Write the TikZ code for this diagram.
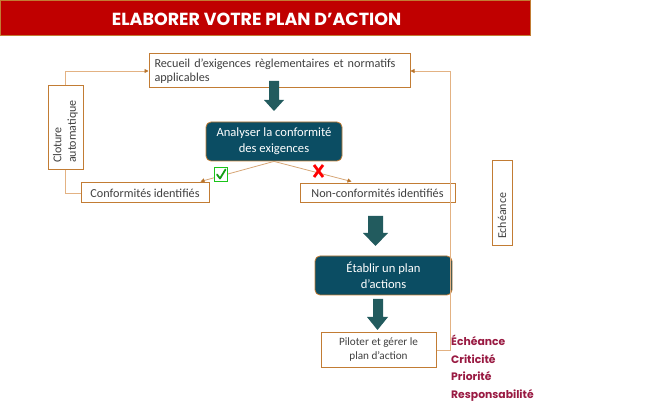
\documentclass[tikz,border=0pt]{standalone}
\usepackage{fontspec}
\setmainfont{Carlito}
\newfontfamily\titlefont{Poppins}
\usetikzlibrary{calc,arrows.meta}
\definecolor{boxborder}{HTML}{C27C34}
\definecolor{fbline}{HTML}{E3B283}
\definecolor{conline}{HTML}{D6A676}
\definecolor{tipcol}{HTML}{B8732A}
\definecolor{tealbox}{HTML}{0B4D63}
\definecolor{arrowcol}{HTML}{225B5E}
\definecolor{txtgray}{HTML}{404040}
\definecolor{titlered}{HTML}{C00000}
\definecolor{crimson}{HTML}{991A42}
\definecolor{okgreen}{HTML}{19C419}
\tikzset{
  x=1pt,y=-1pt,
  whitebox/.style={draw=boxborder,line width=1pt,fill=white,inner sep=0pt,text=txtgray,font=\fontsize{12.2}{14}\selectfont},
  tealnode/.style={draw=boxborder,line width=0.8pt,fill=tealbox,rounded corners=5pt,inner sep=0pt,text=white,align=center,font=\fontsize{12.6}{16}\selectfont},
  fb/.style={draw=fbline,line width=0.8pt},
  con/.style={draw=conline,line width=0.8pt},
  tip/.style={-{Triangle[length=4pt,width=4pt,fill=tipcol,color=tipcol]}},
  blockarrow/.style={fill=arrowcol}
}
\begin{document}
\begin{tikzpicture}
\useasboundingbox (0,0) rectangle (649,409);
% title
\node[draw=boxborder,line width=1pt,fill=titlered,minimum width=530pt,minimum height=35pt,inner sep=0pt] (title) at (265.5,18) {};
\node[inner sep=0pt,text=white,font=\titlefont\bfseries\fontsize{17.5}{20}\selectfont] (titletext) at (256.5,19) {ELABORER VOTRE PLAN D’ACTION};
% boxes
\node[whitebox,minimum width=261pt,minimum height=34pt,text width=250pt,align=left] (recueil) at (279.5,71) {Recueil d’exigences règlementaires et normatifs\\applicables};
\node[whitebox,minimum width=84pt,minimum height=35pt,rotate=90,text width=70pt,align=left,font=\fontsize{12}{14.5}\selectfont] (cloture) at (65.5,128) {Cloture\\automatique};
\node[whitebox,minimum width=128pt,minimum height=20pt] (conform) at (145,193) {Conformités\ identifiés};
\node[tealnode,minimum width=136pt,minimum height=39pt] (analyser) at (274,141.5) {Analyser la conformité\\des exigences};
\node[whitebox,minimum width=155pt,minimum height=19pt] (nonconf) at (377.5,193.5) {Non-conformités\ identifiés};
\node[tealnode,minimum width=137pt,minimum height=39pt] (etablir) at (383.5,275.5) {Établir un plan\\d’actions};
\node[whitebox,minimum width=115pt,minimum height=34pt,align=center,font=\fontsize{11.2}{14}\selectfont] (piloter) at (378.5,350) {Piloter et gérer le\\plan d’action};
\node[whitebox,minimum width=85pt,minimum height=20pt,rotate=90,text width=71pt,align=left,font=\fontsize{12}{14}\selectfont] (echeance) at (502,203.5) {Echéance};
\node[anchor=north west,inner sep=0pt,align=left,text=crimson,font=\titlefont\bfseries\fontsize{10.8}{17.5}\selectfont] (criteres) at (451,335) {Échéance\\Criticité\\Priorité\\Responsabilité};
% block arrows
\fill[blockarrow] (269,81) -- (279,81) -- (279,100) -- (284,100) -- (274,111) -- (264,100) -- (269,100) -- cycle;
\fill[blockarrow] (368,216) -- (383,216) -- (383,233) -- (388,233) -- (375.5,246) -- (363,233) -- (368,233) -- cycle;
\fill[blockarrow] (373,299) -- (383,299) -- (383,317) -- (388,317) -- (377.5,330) -- (367,317) -- (373,317) -- cycle;
% feedback lines
\draw[fb,tip] (cloture.east) |- (recueil.west);
\draw[fb] (conform.west) -| (cloture.west);
\draw[fb,tip] (piloter.east) -- ++(14,0) |- (recueil.east);
% connectors
\coordinate (cl) at ($(conform.north east)+(-9,-1)$);
\coordinate (cr) at ($(nonconf.north west)+(52,-2)$);
\draw[con,tip] (analyser.south) -- (cl);
\draw[con,tip] (analyser.south) -- (cr);
% check and cross
\node[draw=okgreen,line width=1pt,fill=white,minimum width=13pt,minimum height=14pt,inner sep=0pt] (okbox) at (221,174.5) {};
\draw[okgreen!80!black,line width=1.8pt,line cap=round,line join=round] ($(okbox.center)+(-4,0)$) -- ($(okbox.center)+(-1,4)$) -- ($(okbox.center)+(4.5,-5)$);
\coordinate (xc) at (318.5,171);
\draw[red,line width=2.8pt] ($(xc)+(-4.5,-6)$) -- ($(xc)+(4.5,6)$);
\draw[red,line width=2.8pt] ($(xc)+(4.5,-6)$) -- ($(xc)+(-4.5,6)$);
\end{tikzpicture}
\end{document}
